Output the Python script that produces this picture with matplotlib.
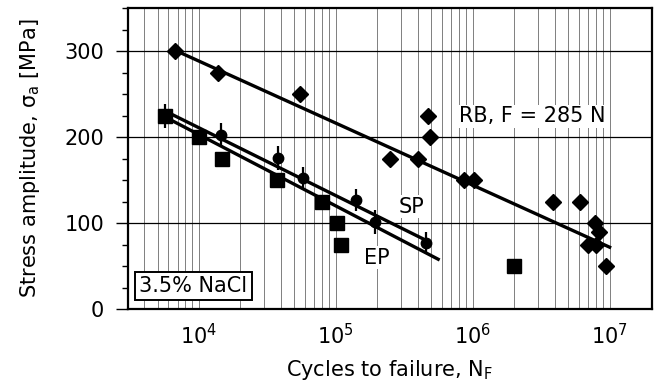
import numpy as np
import matplotlib
matplotlib.use("Agg")
import matplotlib.pyplot as plt
from matplotlib.ticker import LogLocator, MultipleLocator, NullFormatter

plt.rcParams['font.family'] = ['DejaVu Sans']
plt.rcParams['mathtext.fontset'] = 'dejavusans'

# RB, F = 285 N (diamonds)
rb_n = [6.7e3, 1.38e4, 5.5e4, 2.5e5, 4.0e5, 4.7e5, 4.85e5, 8.6e5, 1.02e6,
        3.85e6, 6.1e6, 7.8e6, 8.4e6, 7.0e6, 7.9e6, 9.4e6]
rb_s = [300, 275, 250, 175, 175, 225, 200, 150, 150,
        125, 125, 100, 90, 75, 75, 50]

# SP (circles with scatter bars)
sp_n = [5.65e3, 1.45e4, 3.8e4, 5.8e4, 1.4e5, 1.95e5, 4.6e5]
sp_s = [225, 202, 176, 152, 127, 101, 77]
sp_err = [14, 14, 14, 13, 13, 14, 13]

# EP (squares)
ep_n = [5.65e3, 1.0e4, 1.47e4, 3.7e4, 7.9e4, 1.02e5, 1.1e5, 2.0e6]
ep_s = [225, 200, 175, 150, 125, 100, 75, 50]

# fitted lines (end points)
rb_fit_n = [6.7e3, 1.0e7]
rb_fit_s = [301, 72]
sp_fit_n = [5.9e3, 4.7e5]
sp_fit_s = [229, 79]
ep_fit_n = [5.9e3, 5.6e5]
ep_fit_s = [222, 58]

fig = plt.figure(figsize=(6.55, 3.84), dpi=100)
ax = fig.add_axes([0.195, 0.195, 0.8, 0.784])

ax.set_xscale('log')
ax.set_xlim(3.03e3, 2.03e7)
ax.set_ylim(0, 350)

ax.xaxis.set_major_locator(LogLocator(base=10, numticks=10))
ax.xaxis.set_minor_locator(LogLocator(base=10, subs=np.arange(2, 10), numticks=20))
ax.xaxis.set_minor_formatter(NullFormatter())
ax.yaxis.set_major_locator(MultipleLocator(100))
ax.yaxis.set_minor_locator(MultipleLocator(25))

ax.grid(True, which='major', axis='y', color='black', lw=0.9)
ax.grid(True, which='both', axis='x', color='black', lw=0.5, alpha=0.7)

ax.tick_params(axis='x', which='both', length=0, pad=10, labelsize=15)
ax.tick_params(axis='y', which='major', length=9, width=1, pad=8, labelsize=15)
ax.tick_params(axis='y', which='minor', length=4.5, width=1)
for sp in ax.spines.values():
    sp.set_linewidth(1.6)

ax.plot(rb_fit_n, rb_fit_s, color='black', lw=2.4, zorder=3)
ax.plot(sp_fit_n, sp_fit_s, color='black', lw=2.4, zorder=3)
ax.plot(ep_fit_n, ep_fit_s, color='black', lw=2.4, zorder=3)

ax.plot(rb_n, rb_s, 'D', color='black', ms=8, zorder=4, clip_on=False)
ax.errorbar(sp_n, sp_s, yerr=sp_err, fmt='o', color='black', ms=7.5,
            elinewidth=1.6, capsize=0, zorder=4)
ax.plot(ep_n, ep_s, 's', color='black', ms=9.5, zorder=4)

ax.text(8.0e5, 224, 'RB, F = 285 N', fontsize=15, va='center', ha='left',
        zorder=5, bbox=dict(facecolor='white', edgecolor='none', pad=1))
ax.text(3.55e5, 119, 'SP', fontsize=15, ha='center', va='center', zorder=5,
        bbox=dict(facecolor='white', edgecolor='none', pad=1))
ax.text(2.0e5, 60, 'EP', fontsize=15, ha='center', va='center', zorder=5,
        bbox=dict(facecolor='white', edgecolor='none', pad=1))
ax.text(0.022, 0.077, '3.5% NaCl', fontsize=15, transform=ax.transAxes,
        ha='left', va='center', zorder=5,
        bbox=dict(facecolor='white', edgecolor='black', lw=1.4, pad=3))

ax.set_xlabel('Cycles to failure, N$_\\mathrm{F}$', fontsize=15, labelpad=7)
ax.set_ylabel('Stress amplitude, σ$_\\mathrm{a}$ [MPa]', fontsize=15, labelpad=16)

fig.savefig('out.png', dpi=100)
